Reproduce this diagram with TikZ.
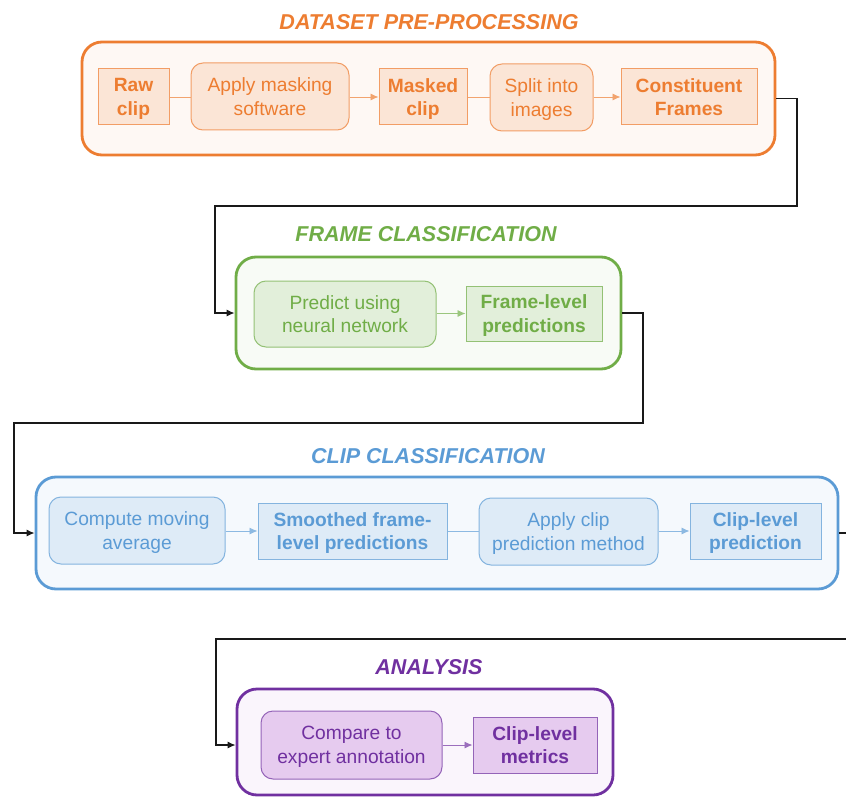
\documentclass[tikz,border=0pt]{standalone}
\usepackage{fontspec}
\setmainfont{Liberation Sans}
\usetikzlibrary{arrows.meta}
\definecolor{cor}{HTML}{ED7D31}
\definecolor{corO}{HTML}{FEF8F4}
\definecolor{corI}{HTML}{FBE5D6}
\definecolor{cgr}{HTML}{70AD47}
\definecolor{cgrO}{HTML}{F8FBF6}
\definecolor{cgrI}{HTML}{E2EFDA}
\definecolor{cbl}{HTML}{5B9BD5}
\definecolor{cblO}{HTML}{F5F9FD}
\definecolor{cblI}{HTML}{DEEBF7}
\definecolor{cpu}{HTML}{7030A0}
\definecolor{cpuO}{HTML}{FAF5FC}
\definecolor{cpuI}{HTML}{E6CBEF}
\newcommand\regf{\fontsize{19.2}{23.5}\selectfont}
\newcommand\bldf{\fontsize{19.2}{23.5}\selectfont\bfseries}
\newcommand\ttlf{\fontsize{21.5}{26}\selectfont\bfseries\itshape}
\tikzset{
  sect/.style 2 args={draw=#1, fill=#2, line width=2.8pt, rounded corners=20pt, inner sep=0pt},
  proc/.style 2 args={draw=#1!75, fill=#2, line width=1pt, rounded corners=12pt, text=#1, align=center, inner sep=0pt, font=\regf, text depth=0pt},
  res/.style 2 args={draw=#1!75, fill=#2, line width=1pt, text=#1, align=center, inner sep=0pt, font=\bldf, text depth=0pt},
  ttl/.style={text=#1, font=\ttlf, inner sep=0pt},
  inarr/.style={draw=#1!70, line width=0.9pt, -{Latex[length=8pt,width=7pt]}},
  inln/.style={draw=#1!70, line width=0.9pt},
  conn/.style={draw=black!90, line width=1.2pt},
  connarr/.style={draw=black!90, line width=1.2pt, -{Latex[length=8pt,width=7pt]}},
}
\begin{document}
\begin{tikzpicture}[x=1pt,y=-1pt]
\useasboundingbox (0,0) rectangle (846,797);
\clip (0,0) rectangle (846,797);
% titles
\node[ttl=cor] (t1) at (429,22) {DATASET PRE-PROCESSING};
\node[ttl=cgr] (t2) at (426,234) {FRAME CLASSIFICATION};
\node[ttl=cbl] (t3) at (428,456) {CLIP CLASSIFICATION};
\node[ttl=cpu] (t4) at (429,667) {ANALYSIS};
% sections
\node[sect={cor}{corO}, minimum width=693pt, minimum height=113pt] (s1) at (428.5,98.5) {};
\node[sect={cgr}{cgrO}, minimum width=385pt, minimum height=112pt] (s2) at (428.5,313) {};
\node[sect={cbl}{cblO}, minimum width=802pt, minimum height=112pt] (s3) at (437,533) {};
\node[sect={cpu}{cpuO}, minimum width=376pt, minimum height=106pt] (s4) at (425,742) {};
% orange
\node[res={cor}{corI}, minimum width=71pt, minimum height=56pt] (raw) at (133.5,97) {Raw\\clip};
\node[proc={cor}{corI}, minimum width=158pt, minimum height=67pt] (mask) at (270,96.5) {Apply masking\\software};
\node[res={cor}{corI}, minimum width=88pt, minimum height=56pt] (mclip) at (423,97) {Masked\\clip};
\node[proc={cor}{corI}, minimum width=103pt, minimum height=67pt] (split) at (541.5,97.5) {Split into\\images};
\node[res={cor}{corI}, minimum width=136pt, minimum height=56pt] (frames) at (689,97) {Constituent\\Frames};
\draw[inln=cor] (raw.east) -- (raw.east -| mask.west);
\draw[inarr=cor] (mask.east |- raw.east) -- (mclip.west);
\draw[inln=cor] (mclip.east) -- (mclip.east -| split.west);
\draw[inarr=cor] (split.east |- frames.west) -- (frames.west);
% green
\node[proc={cgr}{cgrI}, minimum width=182pt, minimum height=66pt] (pred) at (345,314) {Predict using\\neural network};
\node[res={cgr}{cgrI}, minimum width=136pt, minimum height=55pt] (flp) at (534,313.5) {Frame-level\\predictions};
\draw[inarr=cgr] (pred.east |- flp.west) -- (flp.west);
% blue
\node[proc={cbl}{cblI}, minimum width=176pt, minimum height=67pt] (cma) at (137,530.5) {Compute moving\\average};
\node[res={cbl}{cblI}, minimum width=189pt, minimum height=56pt] (sfp) at (352.5,531) {Smoothed frame-\\level predictions};
\node[proc={cbl}{cblI}, minimum width=179pt, minimum height=67pt] (acp) at (568.5,531.5) {Apply clip\\prediction method};
\node[res={cbl}{cblI}, minimum width=131pt, minimum height=56pt] (clp) at (755.5,531) {Clip-level\\prediction};
\draw[inarr=cbl] (cma.east |- sfp.west) -- (sfp.west);
\draw[inln=cbl] (sfp.east) -- (sfp.east -| acp.west);
\draw[inarr=cbl] (acp.east |- clp.west) -- (clp.west);
% purple
\node[proc={cpu}{cpuI}, minimum width=181pt, minimum height=68pt] (cmp) at (351.5,745) {Compare to\\expert annotation};
\node[res={cpu}{cpuI}, minimum width=124pt, minimum height=56pt] (clm) at (535,745) {Clip-level\\metrics};
\draw[inarr=cpu] (cmp.east) -- (clm.west);
% section connectors
\coordinate (a1) at (797,206);
\coordinate (a2) at (215,206);
\draw[connarr] (s1.east) -| (a1) -- (a2) |- (s2.west);
\coordinate (b1) at (643,423);
\coordinate (b2) at (14,423);
\draw[connarr] (s2.east) -| (b1) -- (b2) |- (s3.west);
\coordinate (c1) at (870,639);
\coordinate (c2) at (216,639);
\draw[connarr] (s3.east) -| (c1) -- (c2) |- (s4.west |- cmp.west);
\end{tikzpicture}
\end{document}
